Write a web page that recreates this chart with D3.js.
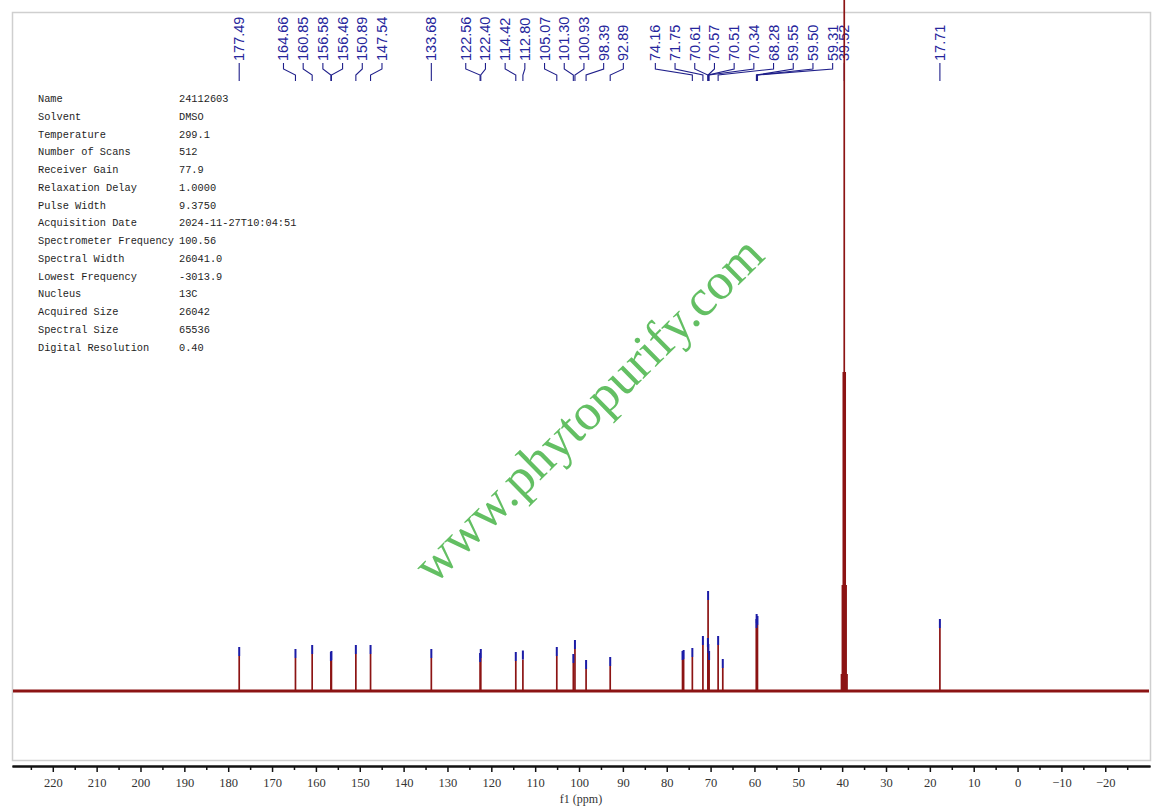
<!DOCTYPE html>
<html><head><meta charset="utf-8">
<script src="https://cdn.jsdelivr.net/npm/d3@7"></script>
<style>html,body{margin:0;padding:0;background:#fff;} svg{display:block}</style>
</head><body><svg id="chart" width="1161" height="807"></svg>
<script>
// ---------- data ----------
const peakPpm    = [177.49,164.66,160.85,156.58,156.46,150.89,147.54,133.68,122.56,122.40,114.42,112.80,105.07,101.30,100.93,98.39,92.89,76.40,76.15,74.16,71.75,70.61,70.57,70.51,70.34,68.28,67.22,59.55,59.50,59.31,17.71];
const peakHeight = [35,33,37,30,31,37,37,33,29,33,30,31.5,35,28,42,22,25,31,32,34,46,44,91,38,31,46,23,63,68,66,63];
const solventPpm    = [40.15,39.94,39.73,39.52,39.31,39.10,38.89];
const solventHeight = [17,106,319,720,319,106,17];
const peakLabels = ["177.49","164.66","160.85","156.58","156.46","150.89","147.54","133.68","122.56","122.40","114.42","112.80","105.07","101.30","100.93","98.39","92.89","74.16","71.75","70.61","70.57","70.51","70.34","68.28","59.55","59.50","59.31","17.71"];
const solventLabel = "39.52";
const paramNames  = ["Name","Solvent","Temperature","Number of Scans","Receiver Gain","Relaxation Delay","Pulse Width","Acquisition Date","Spectrometer Frequency","Spectral Width","Lowest Frequency","Nucleus","Acquired Size","Spectral Size","Digital Resolution"];
const paramValues = ["24112603","DMSO","299.1","512","77.9","1.0000","9.3750","2024-11-27T10:04:51","100.56","26041.0","-3013.9","13C","26042","65536","0.40"];
const majorTicks = [220,210,200,190,180,170,160,150,140,130,120,110,100,90,80,70,60,50,40,30,20,10,0,-10,-20];
const minorTicks = [225,215,205,195,185,175,165,155,145,135,125,115,105,95,85,75,65,55,45,35,25,15,5,-5,-15,-25];
const xDomain = [229.3, -30.2];
const axisTitle = "f1 (ppm)";
const watermark = "www.phytopurify.com";

// ---------- layout ----------
const svg = d3.select("#chart");
const L = 12, R = 1150, T = 12, B = 760;
const x = d3.scaleLinear().domain(xDomain).range([L, R]);
const y = d3.scaleLinear().domain([0, 679]).range([691, 12]);

// frame
svg.append("rect").attr("x", L + 0.5).attr("y", T + 0.5).attr("width", R - L).attr("height", B - T)
  .attr("fill", "none").attr("stroke", "#cfcfcf").attr("stroke-width", 1.5);

// watermark
svg.append("text").attr("transform", "translate(588,409) rotate(-44.6)")
  .attr("text-anchor", "middle").attr("dominant-baseline", "central")
  .attr("font-family", "Liberation Serif, serif").attr("font-size", 52)
  .attr("fill", "#63bf63").text(watermark);

// parameter table
const rowY = d3.scaleLinear().domain([0, 1]).range([99, 116.75]);
const tbl = svg.append("g").attr("font-family", "Liberation Mono, monospace").attr("font-size", 10.3).attr("fill", "#1e1e1e");
tbl.selectAll("text.n").data(paramNames).join("text").attr("class", "n")
  .attr("x", 38).attr("y", (d, i) => rowY(i)).attr("dominant-baseline", "central").text(d => d);
tbl.selectAll("text.v").data(paramValues).join("text").attr("class", "v")
  .attr("x", 179).attr("y", (d, i) => rowY(i)).attr("dominant-baseline", "central").text(d => d);

// ---------- peak labels (cluster layout) ----------
const spacing = 19.7, groupThresh = 45, clusterGap = 32;
const items = peakLabels.map(s => ({ text: s, ideal: x(+s) })).sort((a, b) => a.ideal - b.ideal);
const groups = [];
items.forEach(d => {
  const g = groups[groups.length - 1];
  if (g && d.ideal - g[g.length - 1].ideal < groupThresh) g.push(d); else groups.push([d]);
});
let prevEnd = -Infinity;
groups.forEach(g => {
  const mean = d3.mean(g, d => d.ideal);
  let s = mean - (g.length - 1) * spacing / 2;
  if (s - prevEnd < clusterGap) s = prevEnd + clusterGap;
  g.forEach((d, i) => d.lx = s + i * spacing);
  prevEnd = s + (g.length - 1) * spacing;
});
items.push({ text: solventLabel, ideal: x(+solventLabel), lx: x(+solventLabel) });

const lab = svg.append("g");
const conn = d3.line();
lab.selectAll("path").data(items).join("path")
  .attr("d", d => conn([[d.lx, 63], [d.lx, 69], [d.ideal, 75], [d.ideal, 81]]))
  .attr("fill", "none").attr("stroke", "#1f1f8a").attr("stroke-width", 1.1);
lab.selectAll("text").data(items).join("text")
  .attr("transform", d => `translate(${d.lx},61) rotate(-90)`)
  .attr("dominant-baseline", "central").attr("text-anchor", "start")
  .attr("font-family", "Liberation Sans, Arial, sans-serif").attr("font-size", 14.5)
  .attr("fill", "#26269c").text(d => d.text);

// ---------- spectrum ----------
const red = "#8c1414";
svg.append("line").attr("x1", L + 1).attr("x2", R - 1).attr("y1", y(0)).attr("y2", y(0))
  .attr("stroke", red).attr("stroke-width", 3.2);
const peaks = peakPpm.map((p, i) => ({ p, h: peakHeight[i] }));
const solv = solventPpm.map((p, i) => ({ p, h: solventHeight[i] }));
svg.append("g").selectAll("line").data(peaks.concat(solv)).join("line")
  .attr("x1", d => x(d.p)).attr("x2", d => x(d.p)).attr("y1", y(0) + 1).attr("y2", d => y(d.h))
  .attr("stroke", red).attr("stroke-width", 1.7);
// peak pick markers
svg.append("g").selectAll("line").data(peaks).join("line")
  .attr("x1", d => x(d.p)).attr("x2", d => x(d.p)).attr("y1", d => y(d.h)).attr("y2", d => y(d.h) - 9)
  .attr("stroke", "#1c1ca6").attr("stroke-width", 2);

// ---------- axis ----------
const axY = 766;
const gMin = svg.append("g").attr("transform", `translate(0,${axY})`)
  .call(d3.axisBottom(x).tickValues(minorTicks).tickSize(4).tickSizeOuter(0).tickFormat(""));
const gMaj = svg.append("g").attr("transform", `translate(0,${axY})`)
  .call(d3.axisBottom(x).tickValues(majorTicks).tickSize(6).tickSizeOuter(0).tickPadding(6).tickFormat(d3.format("d")));
[gMin, gMaj].forEach(g => {
  g.select(".domain").attr("stroke", "#111").attr("stroke-width", 2);
  g.selectAll(".tick line").attr("stroke", "#111").attr("stroke-width", 1.5);
});
gMaj.selectAll(".tick text").attr("font-family", "Liberation Serif, serif").attr("font-size", 12.5).attr("fill", "#333");
svg.append("text").attr("x", (L + R) / 2).attr("y", 799).attr("text-anchor", "middle").attr("dominant-baseline", "central")
  .attr("font-family", "Liberation Serif, serif").attr("font-size", 12).attr("fill", "#333").text(axisTitle);
</script></body></html>
